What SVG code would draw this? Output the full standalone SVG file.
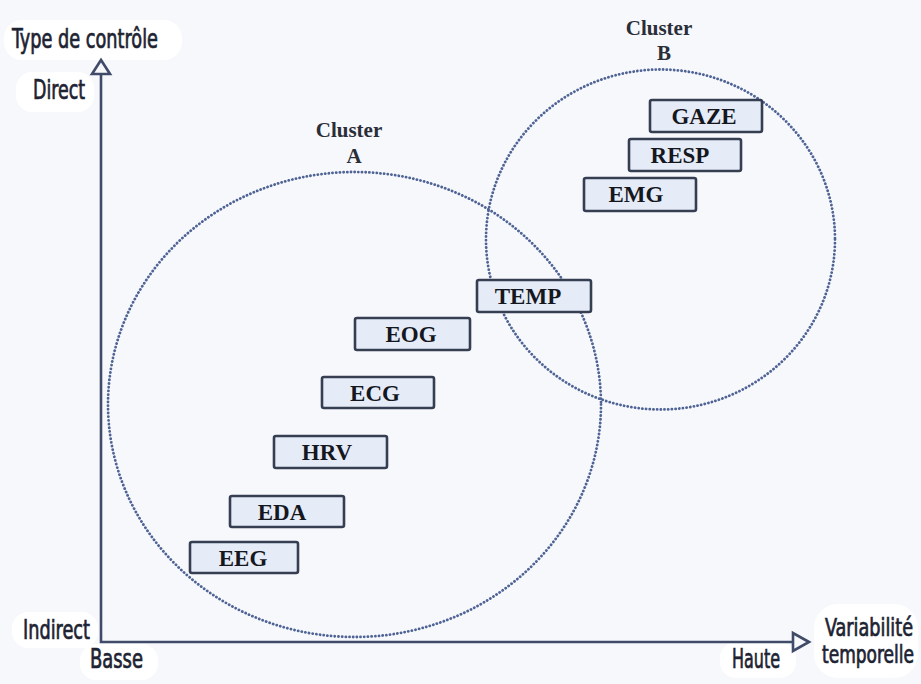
<svg xmlns="http://www.w3.org/2000/svg" width="921" height="684" viewBox="0 0 921 684">
<style>
.lbl{font-family:"DejaVu Sans Condensed","Liberation Sans Narrow","DejaVu Sans",sans-serif;font-size:26px;fill:#1d2332;stroke:#1d2332;stroke-width:0.7}
.box rect{fill:#e5ecf8;stroke:#363e52;stroke-width:2.6}
.box text{font-family:"Liberation Serif",serif;font-weight:bold;font-size:23px;fill:#15171f;text-anchor:middle}
.cl{font-family:"Liberation Serif",serif;font-weight:bold;font-size:21px;fill:#2a2e38;text-anchor:middle}
.circ{fill:none;stroke:#4f6494;stroke-width:2.8;stroke-dasharray:0.1 3.6;stroke-linecap:round}
.axis{fill:none;stroke:#3f4b68;stroke-width:2.6}
.blob{fill:#ffffff}
</style>
<rect width="921" height="684" fill="#f7f8fc"/>
<g id="blobs">
<rect class="blob" x="4" y="20" width="178" height="40" rx="18"/>
<rect class="blob" x="16" y="72" width="78" height="40" rx="16"/>
<rect class="blob" x="12" y="612" width="86" height="36" rx="16"/>
<rect class="blob" x="80" y="644" width="78" height="36" rx="16"/>
<rect class="blob" x="720" y="642" width="76" height="36" rx="16"/>
<rect class="blob" x="814" y="604" width="104" height="74" rx="24"/>
</g>
<g id="connectors">
<ellipse class="circ" cx="354.5" cy="404.5" rx="246.5" ry="232.5"/>
<ellipse class="circ" cx="660.5" cy="239.5" rx="174.5" ry="170"/>
<polyline class="axis" points="101,74 101,642 793,642"/>
<polygon class="axis" points="101,60 92,74 110,74"/>
<polygon class="axis" points="809,642 793,633 793,651"/>
</g>
<g id="axis-labels">
<text class="lbl" x="12" y="48" textLength="146" lengthAdjust="spacingAndGlyphs">Type de contrôle</text>
<text class="lbl" x="33" y="99" textLength="52" lengthAdjust="spacingAndGlyphs">Direct</text>
<text class="lbl" x="23" y="639" textLength="67" lengthAdjust="spacingAndGlyphs">Indirect</text>
<text class="lbl" x="90" y="668" textLength="53" lengthAdjust="spacingAndGlyphs">Basse</text>
<text class="lbl" x="732" y="668" textLength="48" lengthAdjust="spacingAndGlyphs">Haute</text>
<text class="lbl" x="825" y="636" textLength="88" lengthAdjust="spacingAndGlyphs" style="font-size:24px">Variabilité</text>
<text class="lbl" x="822" y="663" textLength="92" lengthAdjust="spacingAndGlyphs" style="font-size:24px">temporelle</text>
</g>
<g id="cluster-a-label">
<text class="cl" x="349" y="137">Cluster</text>
<text class="cl" x="354" y="163">A</text>
</g>
<g id="cluster-b-label">
<text class="cl" x="659" y="35">Cluster</text>
<text class="cl" x="664" y="60">B</text>
</g>
<g id="gaze" class="box"><rect x="650" y="100" width="112" height="32" rx="2"/><text x="704" y="124">GAZE</text></g>
<g id="resp" class="box"><rect x="629" y="139" width="112" height="32" rx="2"/><text x="680" y="163">RESP</text></g>
<g id="emg" class="box"><rect x="584" y="178" width="112" height="33" rx="2"/><text x="636" y="202">EMG</text></g>
<g id="temp" class="box"><rect x="477" y="280" width="114" height="32" rx="2"/><text x="528" y="304">TEMP</text></g>
<g id="eog" class="box"><rect x="355" y="318" width="115" height="32" rx="2"/><text x="411" y="342">EOG</text></g>
<g id="ecg" class="box"><rect x="322" y="377" width="112" height="31" rx="2"/><text x="375" y="401">ECG</text></g>
<g id="hrv" class="box"><rect x="274" y="436" width="113" height="32" rx="2"/><text x="327" y="460">HRV</text></g>
<g id="eda" class="box"><rect x="230" y="496" width="114" height="31" rx="2"/><text x="282" y="520">EDA</text></g>
<g id="eeg" class="box"><rect x="190" y="542" width="108" height="31" rx="2"/><text x="243" y="566">EEG</text></g>
</svg>
